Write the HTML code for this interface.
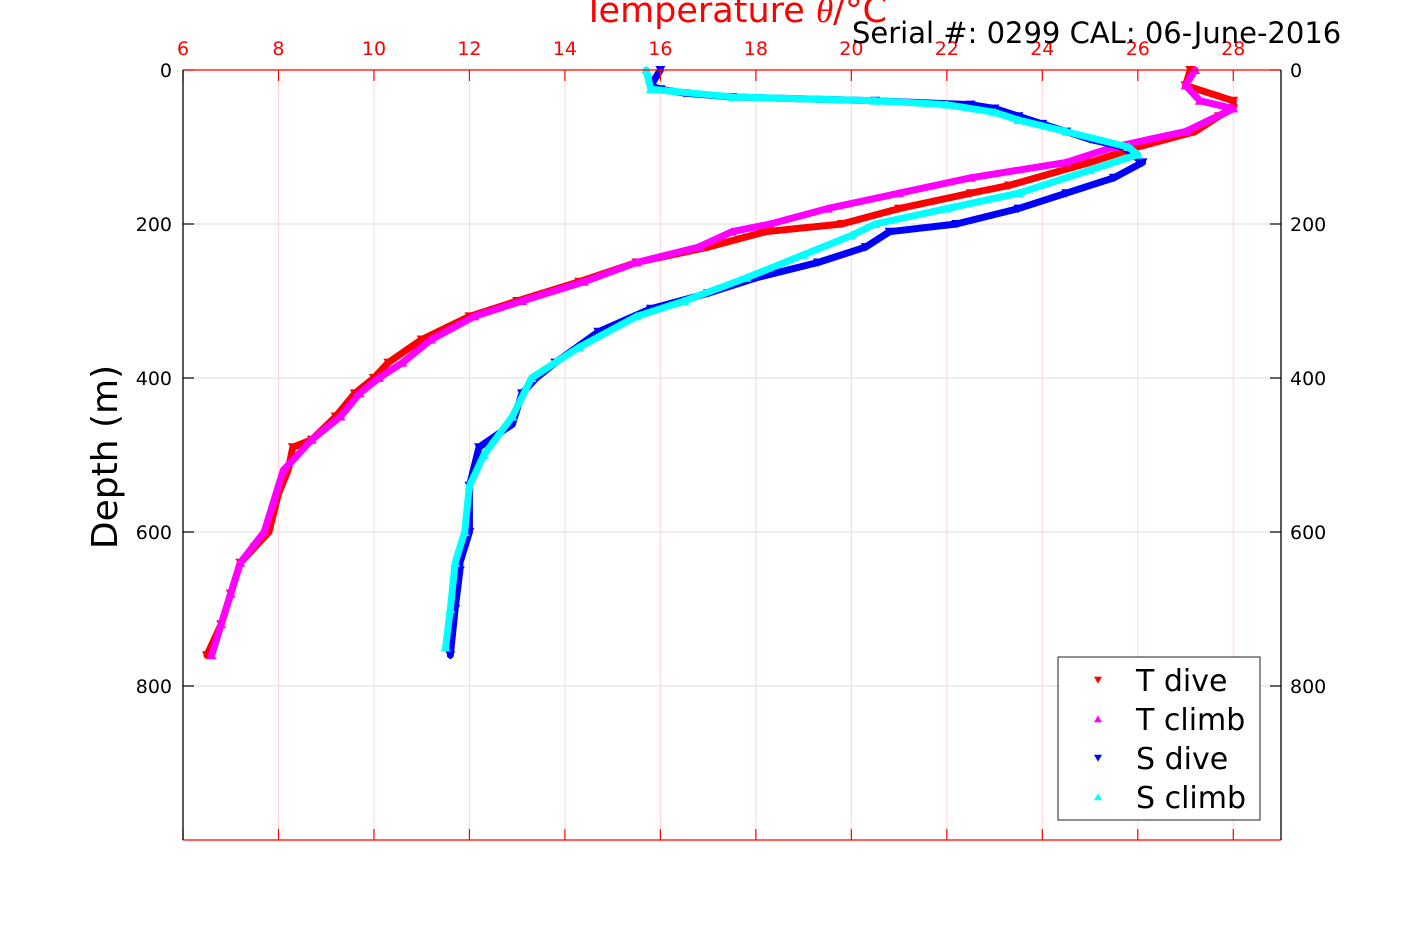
<!DOCTYPE html>
<html><head><meta charset="utf-8"><style>
body{margin:0;background:#fff}
svg{display:block;font-family:"DejaVu Sans","Liberation Sans",sans-serif}
</style></head><body>
<svg id="chart" width="1417" height="945" viewBox="0 0 1417 945" xmlns="http://www.w3.org/2000/svg">
<g id="grid"></g>
<g id="series"></g>
<g id="axes"></g>
<text x="735" y="22" fill="#f00" font-size="35" text-anchor="middle">Temperature <tspan font-style="italic" font-family="Liberation Serif, serif">θ</tspan>/°C</text>
<text x="852" y="43" fill="#000" font-size="29">Serial #: 0299 CAL: 06-June-2016</text>
<text transform="translate(117,457) rotate(-90)" fill="#000" font-size="36" text-anchor="middle">Depth (m)</text>
<g>
<rect x="1058" y="657" width="202" height="163" fill="#fff" stroke="#222" stroke-width="1"/>
<g id="legend-items"></g>
</g>
</svg>
<script>
const xTicks=[6,8,10,12,14,16,18,20,22,24,26,28];
const yTicks=[0,200,400,600,800];
const tDiveDepth=[0,20,40,50,60,80,100,120,150,160,180,200,210,230,250,275,300,320,350,380,400,420,450,480,490,520,550,600,620,640,680,720,760];
const tDiveTemp=[27.1,27.0,28.0,28.0,27.7,27.2,26.0,25.0,23.3,22.5,21.0,19.8,18.2,17.0,15.5,14.3,13.0,12.0,11.0,10.3,10.0,9.6,9.2,8.7,8.3,8.2,8.0,7.8,7.5,7.2,7.0,6.8,6.5];
const tClimbDepth=[0,20,40,50,80,100,120,140,160,180,200,210,230,250,275,300,320,350,380,400,420,450,480,520,560,600,640,680,720,760];
const tClimbTemp=[27.2,27.0,27.3,28.0,27.0,25.5,24.5,22.5,21.0,19.5,18.3,17.5,16.8,15.5,14.4,13.1,12.1,11.2,10.6,10.1,9.7,9.3,8.7,8.1,7.9,7.7,7.2,7.0,6.8,6.6];
const sDiveDepth=[0,20,25,30,35,40,45,50,60,70,80,90,100,120,140,160,180,200,210,230,250,270,290,310,340,380,400,420,460,490,540,600,640,650,700,760];
const sDiveTemp=[16.0,15.8,16.0,16.5,17.5,20.5,22.5,23.0,23.5,24.0,24.5,25.0,25.7,26.1,25.5,24.5,23.5,22.2,20.8,20.3,19.3,18.0,17.0,15.8,14.7,13.8,13.4,13.1,12.9,12.2,12.0,12.0,11.8,11.8,11.7,11.6];
const sClimbDepth=[0,25,35,40,45,55,65,80,100,110,130,160,180,200,215,240,270,300,320,360,400,450,500,540,600,640,700,750];
const sClimbTemp=[15.7,15.8,17.5,20.5,22.0,23.0,23.5,24.5,25.8,26.0,25.0,23.5,22.0,20.5,20.0,19.0,17.8,16.5,15.5,14.3,13.3,12.9,12.3,12.0,11.9,11.7,11.6,11.5];
const seriesNames=["T dive","T climb","S dive","S climb"];
const seriesColors=["#ff0000","#ff00ff","#0000ff","#00ffff"];

const X0=183,X1=1281,Y0=70,Y1=840,XMIN=6,XMAX=29,YMIN=0,YMAX=1000;
const sx=v=>X0+(v-XMIN)/(XMAX-XMIN)*(X1-X0);
const sy=v=>Y0+(v-YMIN)/(YMAX-YMIN)*(Y1-Y0);
const NS="http://www.w3.org/2000/svg";
function mk(tag,attrs,parent){const e=document.createElementNS(NS,tag);for(const k in attrs)e.setAttribute(k,attrs[k]);parent.appendChild(e);return e;}
const grid=document.getElementById('grid'),axes=document.getElementById('axes'),ser=document.getElementById('series');

xTicks.forEach(t=>{const x=sx(t);
 const g=mk('line',{x1:x,y1:Y0,x2:x,y2:Y1,stroke:'#ffd6d6','stroke-width':1},grid);
 
 
 mk('line',{x1:x,y1:Y0,x2:x,y2:Y0+11,stroke:'#f00','stroke-width':1.2},axes);
 mk('line',{x1:x,y1:Y1,x2:x,y2:Y1-11,stroke:'#f00','stroke-width':1.2},axes);
 const tx=mk('text',{x:x,y:55,fill:'#f00','font-size':19,'text-anchor':'middle'},axes);
 tx.textContent=t;
 
 
});
yTicks.forEach(t=>{const y=sy(t);
 if(t>0){const g=mk('line',{x1:X0,y1:y,x2:X1,y2:y,stroke:'#dcdcdc','stroke-width':1},grid);
 
 }
 mk('line',{x1:X0,y1:y,x2:X0+11,y2:y,stroke:'#000','stroke-width':1.2},axes);
 mk('line',{x1:X1,y1:y,x2:X1-11,y2:y,stroke:'#000','stroke-width':1.2},axes);
 const l=mk('text',{x:172,y:y+7,fill:'#000','font-size':19,'text-anchor':'end'},axes);
 l.textContent=t;
 
 
 const r=mk('text',{x:1290,y:y+7,fill:'#000','font-size':19},axes);
 r.textContent=t;
 
 
});
mk('line',{x1:X0,y1:Y0,x2:X1,y2:Y0,stroke:'#f00','stroke-width':1.3},axes);
mk('line',{x1:X0,y1:Y1,x2:X1,y2:Y1,stroke:'#f00','stroke-width':1.3},axes);
mk('line',{x1:X0,y1:Y0,x2:X0,y2:Y1,stroke:'#000','stroke-width':1.3},axes);
mk('line',{x1:X1,y1:Y0,x2:X1,y2:Y1,stroke:'#000','stroke-width':1.3},axes);

function tri(cx,cy,down,s){return down?`${cx-s},${cy-s*0.8} ${cx+s},${cy-s*0.8} ${cx},${cy+s*0.9}`:`${cx-s},${cy+s*0.8} ${cx+s},${cy+s*0.8} ${cx},${cy-s*0.9}`;}
const all=[[tDiveDepth,tDiveTemp,true],[tClimbDepth,tClimbTemp,false],[sDiveDepth,sDiveTemp,true],[sClimbDepth,sClimbTemp,false]];
all.forEach((s,i)=>{const [d,t,down]=s;const c=seriesColors[i];
 const g=mk('g',{},ser);
 
 
 const pts=d.map((v,k)=>sx(t[k])+','+sy(v)).join(' ');
 mk('polyline',{points:pts,fill:'none',stroke:c,'stroke-width':7,'stroke-linejoin':'round','stroke-linecap':'round'},g);
 d.forEach((v,k)=>{const p=mk('polygon',{points:tri(sx(t[k]),sy(v),down,5),fill:c},g);
  
  });
});
const li=document.getElementById('legend-items');
seriesNames.forEach((n,i)=>{const y=680+i*39;
 const g=mk('g',{},li);
 
 
 mk('polygon',{points:tri(1098,y,i%2===0,4),fill:seriesColors[i]},g);
 const tx=mk('text',{x:1136,y:y+11,fill:'#000','font-size':30},g);
 tx.textContent=n;
});
</script>
</body></html>
